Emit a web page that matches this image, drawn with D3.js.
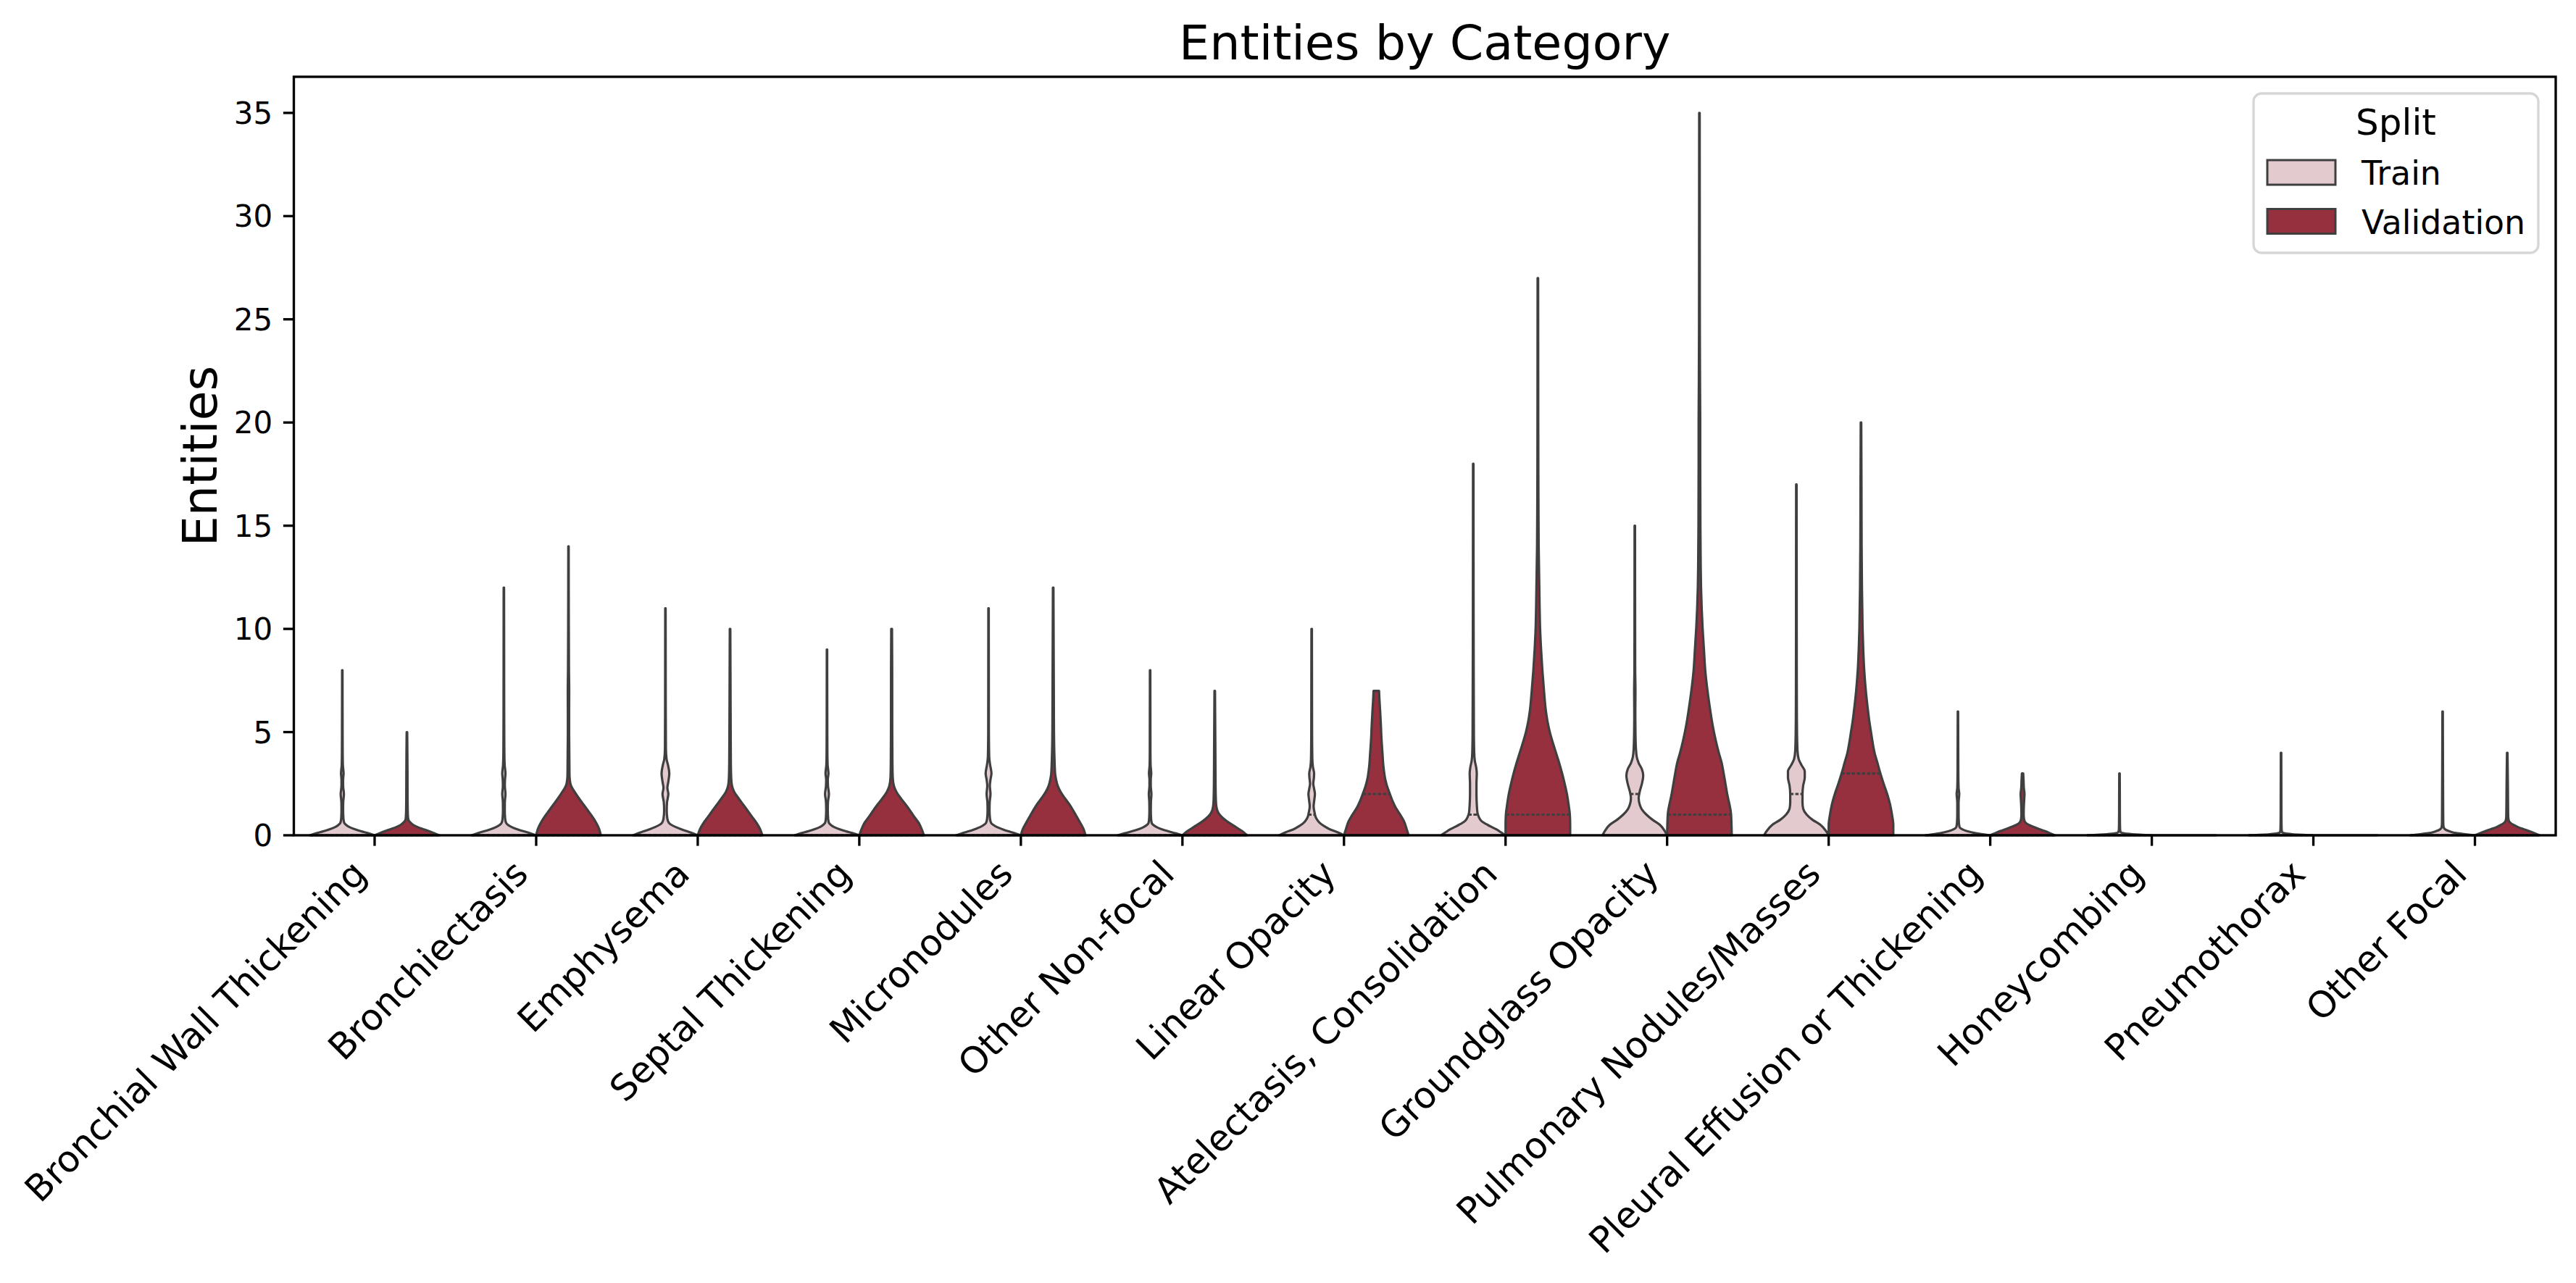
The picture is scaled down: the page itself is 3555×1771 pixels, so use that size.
<!DOCTYPE html>
<html>
<head>
<meta charset="utf-8">
<script src="https://cdn.jsdelivr.net/npm/d3@7"></script>
<style>
  html, body { margin: 0; padding: 0; background: #ffffff; }
  svg { display: block; }
  text { font-family: "DejaVu Sans", "Liberation Sans", sans-serif; fill: #000; }
</style>
</head>
<body>
<svg id="chart" width="3555" height="1771"></svg>
<script>
// ---------------- data ----------------
const categories = [
  "Bronchial Wall Thickening", "Bronchiectasis", "Emphysema", "Septal Thickening",
  "Micronodules", "Other Non-focal", "Linear Opacity", "Atelectasis, Consolidation",
  "Groundglass Opacity", "Pulmonary Nodules/Masses", "Pleural Effusion or Thickening",
  "Honeycombing", "Pneumothorax", "Other Focal"
];
const splits = ["Train", "Validation"];
const yTicks = [0, 5, 10, 15, 20, 25, 30, 35];

// maximum observed value of each violin (cut = 0)
const trainMax = [8, 12, 11, 9, 11, 8, 10, 18, 15, 17, 6, 3, 4, 6];
const valMax   = [5, 14, 10, 10, 12, 7, 7, 27, 35, 20, 3, 0, 0, 4];

// medians (inner lines)
const trainMedian = [0, 0, 0, 0, 0, 0, 1, 1, 2, 2, 0, 0, 0, 0];
const valMedian   = [0, 0, 0, 0, 0, 0, 2, 1, 1, 3, 0, 0, 0, 0];

// density profiles: [value, density relative to the violin's peak]
const trainDensity = [
  [[0,1],[0.1,0.8],[0.2,0.57],[0.3,0.38],[0.4,0.22],[0.5,0.12],[0.6,0.06],[0.8,0.035],[1.2,0.025],[1.6,0.028],[2,0.05],[2.4,0.025],[2.7,0.025],[3,0.04],[3.4,0.018],[4,0.012],[6,0.008],[8,0.006]],
  [[0,1],[0.1,0.82],[0.2,0.6],[0.3,0.4],[0.4,0.24],[0.5,0.13],[0.6,0.07],[0.8,0.04],[1.2,0.028],[1.6,0.03],[2,0.05],[2.4,0.03],[2.7,0.035],[3,0.05],[3.4,0.025],[4,0.015],[6,0.01],[9,0.008],[12,0.006]],
  [[0,1],[0.1,0.85],[0.2,0.66],[0.3,0.48],[0.4,0.32],[0.5,0.19],[0.6,0.11],[0.8,0.06],[1.2,0.04],[1.6,0.05],[2,0.09],[2.3,0.06],[2.6,0.09],[3,0.12],[3.4,0.08],[3.7,0.035],[4.2,0.015],[6,0.01],[11,0.006]],
  [[0,1],[0.1,0.8],[0.2,0.57],[0.3,0.38],[0.4,0.22],[0.5,0.12],[0.6,0.06],[0.8,0.035],[1.2,0.025],[1.6,0.03],[2,0.06],[2.4,0.03],[2.7,0.025],[3,0.045],[3.4,0.02],[4,0.012],[6,0.008],[9,0.006]],
  [[0,1],[0.1,0.82],[0.2,0.6],[0.3,0.42],[0.4,0.26],[0.5,0.15],[0.6,0.08],[0.8,0.045],[1.2,0.03],[1.6,0.035],[2,0.06],[2.4,0.04],[2.7,0.06],[3,0.09],[3.4,0.05],[3.8,0.02],[5,0.01],[8,0.008],[11,0.006]],
  [[0,1],[0.1,0.78],[0.2,0.55],[0.3,0.35],[0.4,0.2],[0.5,0.1],[0.6,0.05],[0.8,0.03],[1.2,0.022],[1.6,0.025],[2,0.04],[2.4,0.02],[2.7,0.02],[3,0.035],[3.4,0.015],[4,0.01],[8,0.006]],
  [[0,1],[0.15,0.8],[0.3,0.55],[0.45,0.38],[0.6,0.25],[0.75,0.17],[0.9,0.12],[1.1,0.09],[1.4,0.06],[1.7,0.08],[2,0.1],[2.3,0.07],[2.5,0.05],[2.8,0.07],[3,0.075],[3.3,0.04],[3.7,0.02],[5,0.012],[7,0.01],[10,0.007]],
  [[0,1],[0.1,0.9],[0.3,0.7],[0.5,0.45],[0.7,0.25],[0.9,0.17],[1.1,0.13],[1.5,0.11],[2,0.1],[2.5,0.1],[3,0.11],[3.3,0.09],[3.6,0.05],[4,0.03],[5,0.02],[8,0.014],[12,0.01],[18,0.007]],
  [[0,1],[0.2,0.93],[0.5,0.78],[0.75,0.55],[1,0.36],[1.25,0.22],[1.5,0.15],[1.8,0.12],[2.1,0.15],[2.5,0.22],[2.9,0.26],[3.2,0.22],[3.5,0.12],[3.8,0.06],[4.2,0.035],[5,0.02],[6,0.016],[7,0.02],[8,0.012],[10,0.01],[15,0.007]],
  [[0,1],[0.2,0.92],[0.5,0.75],[0.75,0.5],[1,0.32],[1.3,0.21],[1.6,0.19],[2,0.19],[2.4,0.21],[2.8,0.26],[3.1,0.26],[3.4,0.16],[3.7,0.07],[4.1,0.035],[5,0.02],[6,0.015],[8,0.012],[12,0.01],[17,0.007]],
  [[0,1],[0.1,0.55],[0.2,0.28],[0.3,0.12],[0.4,0.05],[0.6,0.03],[1,0.02],[1.6,0.02],[2,0.04],[2.3,0.02],[3,0.012],[6,0.006]],
  [[0,1],[0.05,0.4],[0.1,0.12],[0.15,0.04],[0.25,0.02],[0.5,0.015],[1,0.012],[2,0.01],[3,0.007]],
  [[0,1],[0.05,0.35],[0.1,0.1],[0.15,0.035],[0.25,0.02],[0.5,0.015],[1,0.012],[2,0.01],[4,0.007]],
  [[0,1],[0.05,0.7],[0.1,0.45],[0.2,0.2],[0.3,0.07],[0.4,0.03],[0.6,0.02],[2,0.015],[6,0.006]]
];
const valDensity = [
  [[0,1],[0.1,0.85],[0.2,0.68],[0.3,0.5],[0.4,0.33],[0.5,0.2],[0.6,0.12],[0.7,0.06],[0.85,0.035],[1.2,0.025],[2,0.02],[3,0.018],[4,0.014],[5,0.008]],
  [[0,1],[0.3,0.95],[0.6,0.86],[0.9,0.74],[1.2,0.6],[1.5,0.46],[1.8,0.32],[2.1,0.19],[2.4,0.08],[2.7,0.04],[3,0.03],[4,0.025],[5,0.02],[6,0.02],[7,0.022],[8,0.015],[10,0.01],[14,0.006]],
  [[0,1],[0.3,0.93],[0.6,0.82],[0.9,0.68],[1.2,0.54],[1.5,0.4],[1.8,0.26],[2.1,0.13],[2.4,0.06],[2.8,0.035],[3.5,0.025],[5,0.02],[7,0.015],[10,0.008]],
  [[0,1],[0.3,0.93],[0.6,0.84],[0.9,0.7],[1.2,0.57],[1.5,0.43],[1.8,0.28],[2.1,0.15],[2.4,0.07],[2.8,0.035],[3.5,0.025],[5,0.02],[8,0.018],[10,0.012]],
  [[0,1],[0.3,0.94],[0.6,0.84],[0.9,0.73],[1.2,0.62],[1.5,0.5],[1.8,0.36],[2.1,0.23],[2.4,0.14],[2.7,0.09],[3,0.06],[3.5,0.045],[4,0.035],[5,0.025],[7,0.02],[9,0.015],[12,0.008]],
  [[0,1],[0.2,0.85],[0.4,0.65],[0.6,0.45],[0.8,0.28],[1,0.15],[1.2,0.08],[1.4,0.05],[1.7,0.035],[2.5,0.025],[4,0.02],[7,0.008]],
  [[0,1],[0.3,0.94],[0.67,0.86],[1,0.74],[1.34,0.6],[1.67,0.5],[2,0.42],[2.4,0.33],[2.7,0.28],[3.35,0.22],[4,0.19],[4.7,0.16],[5.4,0.14],[6,0.12],[6.5,0.1],[7,0.085]],
  [[0,1],[0.5,1],[1,0.99],[1.5,0.95],[2,0.9],[2.5,0.83],[3,0.75],[3.5,0.66],[4,0.56],[4.5,0.46],[5,0.37],[5.5,0.3],[6,0.25],[7,0.19],[8,0.14],[9,0.1],[10,0.07],[11,0.055],[12,0.045],[13,0.035],[14,0.025],[16,0.018],[20,0.012],[24,0.01],[27,0.008]],
  [[0,1],[1,0.98],[2,0.86],[3,0.75],[3.5,0.69],[4,0.6],[4.5,0.52],[5,0.45],[5.5,0.39],[6,0.34],[7,0.25],[8,0.18],[9,0.14],[10,0.1],[11,0.07],[12,0.05],[13,0.04],[15,0.03],[18,0.025],[20,0.025],[22,0.018],[25,0.012],[30,0.01],[35,0.008]],
  [[0,1],[0.5,1],[1,0.96],[1.5,0.9],[2,0.81],[2.5,0.7],[3,0.6],[3.5,0.51],[4,0.42],[4.5,0.36],[5,0.31],[5.5,0.26],[6,0.22],[7,0.15],[8,0.1],[9,0.07],[10,0.05],[11,0.04],[12,0.03],[14,0.02],[17,0.015],[20,0.008]],
  [[0,1],[0.1,0.85],[0.2,0.7],[0.3,0.52],[0.4,0.35],[0.5,0.2],[0.6,0.1],[0.75,0.05],[1,0.035],[1.4,0.04],[1.7,0.05],[2,0.06],[2.3,0.04],[2.7,0.03],[3,0.02]],
  [[0,1]],
  [[0,1]],
  [[0,1],[0.1,0.85],[0.2,0.68],[0.3,0.5],[0.4,0.33],[0.5,0.2],[0.6,0.1],[0.7,0.05],[0.9,0.03],[1.5,0.025],[2.5,0.02],[4,0.008]]
];

const colors = { Train: "#e3cace", Validation: "#962f3e" };
const edge = "#3f3f3f";

// ---------------- layout ----------------
const W = 3555, H = 1771;
const plot = { left: 405.5, right: 3527, top: 106, bottom: 1153 };

const svg = d3.select("#chart");
svg.append("rect").attr("width", W).attr("height", H).attr("fill", "#fff");

const x = d3.scaleBand().domain(categories).range([plot.left, plot.right]).padding(0);
const bw = x.bandwidth();
const hue = d3.scaleBand().domain(splits).range([-0.4 * bw, 0.4 * bw]).padding(0);
const hw = hue.bandwidth() / 2;
const y = d3.scaleLinear().domain([0, 36.75]).range([plot.bottom, plot.top]);

const violins = [];
categories.forEach((c, i) => {
  violins.push({ cat: c, split: "Train", prof: trainDensity[i], med: trainMedian[i], max: trainMax[i] });
  violins.push({ cat: c, split: "Validation", prof: valDensity[i], med: valMedian[i], max: valMax[i] });
});

function centerOf(v) { return x(v.cat) + bw / 2 + hue(v.split) + hw; }
function widthAt(prof, val) {
  if (prof.length === 1) return prof[0][1];
  for (let k = 0; k < prof.length - 1; k++) {
    const a = prof[k], b = prof[k + 1];
    if (val >= a[0] && val <= b[0]) {
      const t = (val - a[0]) / (b[0] - a[0] || 1);
      return a[1] + t * (b[1] - a[1]);
    }
  }
  return 0;
}

const gV = svg.append("g").attr("class", "violins");
violins.forEach(v => {
  const cx = centerOf(v);
  if (v.prof.length === 1) {
    gV.append("line")
      .attr("x1", cx - hw * v.prof[0][1]).attr("x2", cx + hw * v.prof[0][1])
      .attr("y1", y(v.prof[0][0])).attr("y2", y(v.prof[0][0]))
      .attr("stroke", edge).attr("stroke-width", 3);
    return;
  }
  const area = d3.area()
    .y(d => y(d[0]))
    .x0(d => cx - hw * d[1])
    .x1(d => cx + hw * d[1])
    .curve(d3.curveMonotoneY);
  gV.append("path")
    .attr("d", area(v.prof))
    .attr("fill", colors[v.split])
    .attr("stroke", edge)
    .attr("stroke-width", 3.2)
    .attr("stroke-linejoin", "round");
  const wm = widthAt(v.prof, v.med);
  gV.append("line")
    .attr("x1", cx - hw * wm).attr("x2", cx + hw * wm)
    .attr("y1", y(v.med)).attr("y2", y(v.med))
    .attr("stroke", edge).attr("stroke-width", 3.2)
    .attr("stroke-dasharray", "4.5,2.5");
});

// ---------------- axes ----------------
const tickLen = 14.6, tickPad = 14.6, spineW = 3.33;
const gY = svg.append("g").attr("class", "y-axis");
yTicks.forEach(t => {
  gY.append("line").attr("x1", plot.left - tickLen).attr("x2", plot.left)
    .attr("y1", y(t)).attr("y2", y(t)).attr("stroke", "#000").attr("stroke-width", spineW);
  gY.append("text").attr("x", plot.left - tickLen - tickPad).attr("y", y(t))
    .attr("dy", "0.36em").attr("text-anchor", "end").attr("font-size", 42).text(t);
});

const gX = svg.append("g").attr("class", "x-axis");
const xFont = 50, asc = 0.76 * xFont, desc = 0.24 * xFont;
categories.forEach(c => {
  const tx = x(c) + bw / 2;
  gX.append("line").attr("x1", tx).attr("x2", tx)
    .attr("y1", plot.bottom).attr("y2", plot.bottom + tickLen)
    .attr("stroke", "#000").attr("stroke-width", spineW);
  const px = tx - desc / Math.SQRT2;
  const py = plot.bottom + tickLen + tickPad + asc / Math.SQRT2;
  gX.append("text")
    .attr("transform", `translate(${px},${py}) rotate(-45)`)
    .attr("text-anchor", "end").attr("font-size", xFont).text(c);
});

// spines
svg.append("rect")
  .attr("x", plot.left).attr("y", plot.top)
  .attr("width", plot.right - plot.left).attr("height", plot.bottom - plot.top)
  .attr("fill", "none").attr("stroke", "#000").attr("stroke-width", spineW);

// title & labels
svg.append("text").attr("x", (plot.left + plot.right) / 2).attr("y", 81.5)
  .attr("text-anchor", "middle").attr("font-size", 66.7).text("Entities by Category");
svg.append("text")
  .attr("transform", `translate(299,${(plot.top + plot.bottom) / 2}) rotate(-90)`)
  .attr("text-anchor", "middle").attr("font-size", 66.7).text("Entities");

// legend
const lg = svg.append("g").attr("class", "legend");
lg.append("rect").attr("x", 3110).attr("y", 129).attr("width", 393).attr("height", 220)
  .attr("rx", 11).attr("fill", "#fff").attr("fill-opacity", 0.8)
  .attr("stroke", "#d6d6d6").attr("stroke-width", 3.3);
lg.append("text").attr("x", 3306.5).attr("y", 186).attr("text-anchor", "middle")
  .attr("font-size", 50).text("Split");
splits.forEach((s, i) => {
  const yy = 221 + i * 67.5;
  lg.append("rect").attr("x", 3129).attr("y", yy).attr("width", 94).attr("height", 34)
    .attr("fill", colors[s]).attr("stroke", edge).attr("stroke-width", 3);
  lg.append("text").attr("x", 3259).attr("y", yy + 34).attr("font-size", 45.8).text(s);
});
</script>
</body>
</html>
